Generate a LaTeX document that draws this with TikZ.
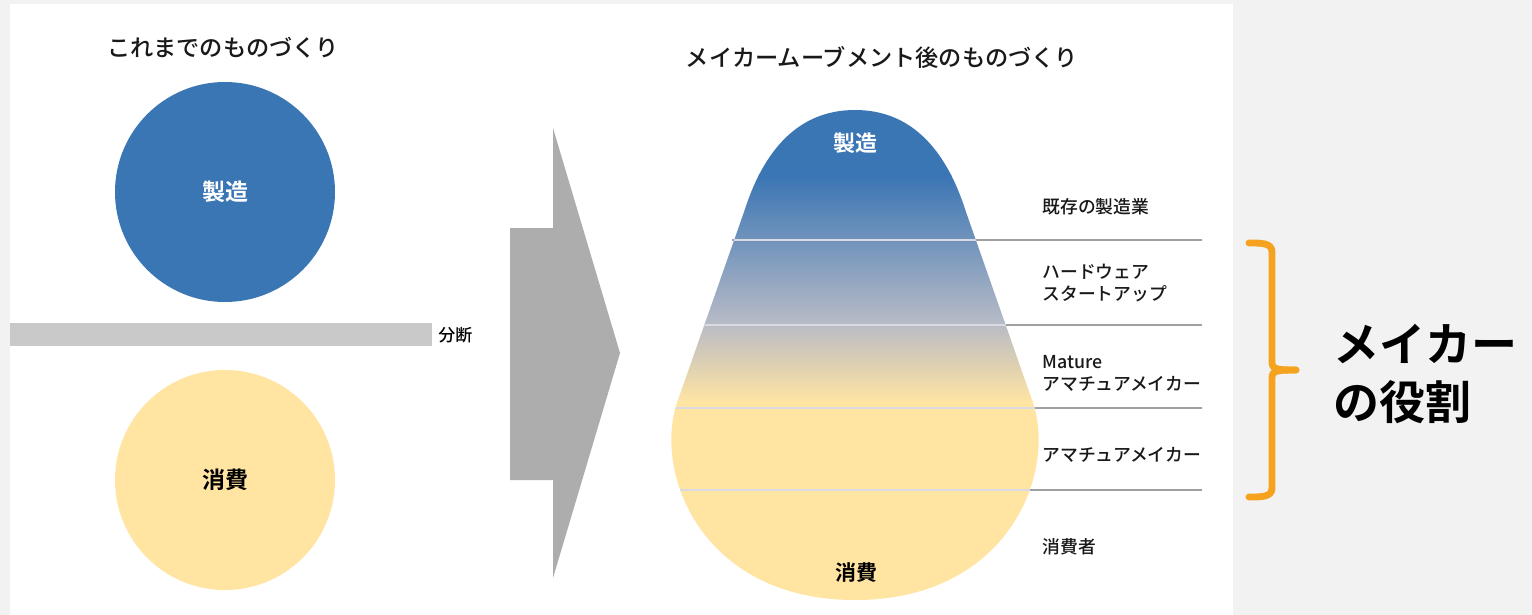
\documentclass[tikz,border=0pt]{standalone}
\usepackage{fontspec}
\setmainfont{Noto Sans CJK JP}
\newfontfamily\jp{Noto Sans CJK JP Medium}
\newfontfamily\jpb{Noto Sans CJK JP Bold}
\definecolor{bgg}{HTML}{F2F2F2}
\definecolor{mfgblue}{HTML}{3A75B4}
\definecolor{midgray}{HTML}{B6BAC6}
\definecolor{consy}{HTML}{FFE4A2}
\definecolor{barg}{HTML}{C9C9C9}
\definecolor{arrg}{HTML}{ADADAD}
\definecolor{brk}{HTML}{F5A21E}
\definecolor{sepl}{HTML}{DADAE2}
\definecolor{sepd}{HTML}{A0A0A0}
\tikzset{
  title/.style={font=\jp\fontsize{11.6pt}{13pt}\selectfont, text=black!90, inner sep=0pt},
  big/.style={font=\jpb\fontsize{11.5pt}{13pt}\selectfont, inner sep=0pt},
  lab/.style={font=\jp\fontsize{8.9pt}{11pt}\selectfont, anchor=west, inner sep=0pt, align=left, text=black!90},
  disc/.style={circle, minimum size=110pt, inner sep=0pt},
}
\begin{document}
\begin{tikzpicture}[x=0.5pt,y=0.5pt]
\fill[bgg] (0,0) rectangle (1532,-615);
\useasboundingbox (0,0) rectangle (1532,-615);
\fill[white] (10,-4) rectangle (1233,-615);

% left side
\node[title] (t1) at (223,-48) {これまでのものづくり};
\node[disc, fill=mfgblue] (c1) at (225,-192) {};
\node[big, text=white] (m1) at (225,-192) {製造};
\fill[barg] (10,-323) rectangle (432,-346);
\node[font=\jp\fontsize{8.5pt}{10pt}\selectfont, inner sep=0pt, anchor=west] (bun) at (438,-335) {分断};
\node[disc, fill=consy] (c2) at (225,-480) {};
\node[big] (s1) at (225,-480) {消費};

% arrow
\fill[arrg] (510,-228) -- (553,-228) -- (553,-128) -- (620,-353) -- (553,-578) -- (553,-480) -- (510,-480) -- cycle;

% right title
\node[title] (t2) at (882,-58) {メイカームーブメント後のものづくり};

% pear shape
\def\pear{(855,-110) .. controls (795,-110) and (762,-155) .. (744,-212) -- (678,-400) .. controls (652,-470) and (700,-600) .. (855,-600) .. controls (1010,-600) and (1058,-470) .. (1032,-400) -- (966,-212) .. controls (948,-155) and (915,-110) .. (855,-110) -- cycle}
% outside separator lines
\foreach \yy/\xl in {240/732,325/704,408/676,490/680}{
  \draw[sepd, line width=0.6pt] (\xl,-\yy) -- (1202,-\yy);
}
\begin{scope}
\clip \pear;
\fill[mfgblue] (600,-100) rectangle (1100,-176);
\shade[top color=mfgblue, bottom color=midgray] (600,-175) rectangle (1100,-322);
\shade[top color=midgray, bottom color=consy] (600,-321) rectangle (1100,-402);
\fill[consy] (600,-401) rectangle (1100,-620);
\foreach \yy in {240,325,408,490}{
  \draw[sepl, line width=1.3pt] (600,-\yy) -- (1100,-\yy);
}
\end{scope}
\node[big, text=white, font=\jpb\fontsize{11pt}{13pt}\selectfont] (m2) at (855,-143) {製造};
\node[big, font=\jpb\fontsize{10.5pt}{12pt}\selectfont] (s2) at (856,-573) {消費};

% right labels
\node[lab] (l1) at (1042,-207) {既存の製造業};
\node[lab] (l2) at (1042,-283) {ハードウェア\\スタートアップ};
\node[lab] (l3) at (1042,-373) {Mature\\アマチュアメイカー};
\node[lab] (l4) at (1042,-455) {アマチュアメイカー};
\node[lab] (l5) at (1042,-547) {消費者};

% bracket
\draw[brk, line width=3.4pt, line cap=round, line join=round]
  (1249,-243) .. controls (1262,-243) and (1272,-243) .. (1272,-252) -- (1272,-362)
  .. controls (1272,-369) and (1276,-370) .. (1296,-370);
\draw[brk, line width=3.4pt, line cap=round, line join=round]
  (1249,-497) .. controls (1262,-497) and (1272,-497) .. (1272,-488) -- (1272,-378)
  .. controls (1272,-371) and (1276,-370) .. (1296,-370);
\node[font=\jpb\fontsize{23pt}{29pt}\selectfont, anchor=west, align=left, inner sep=0pt] (role) at (1333,-374) {メイカー\\の役割};
\end{tikzpicture}
\end{document}
